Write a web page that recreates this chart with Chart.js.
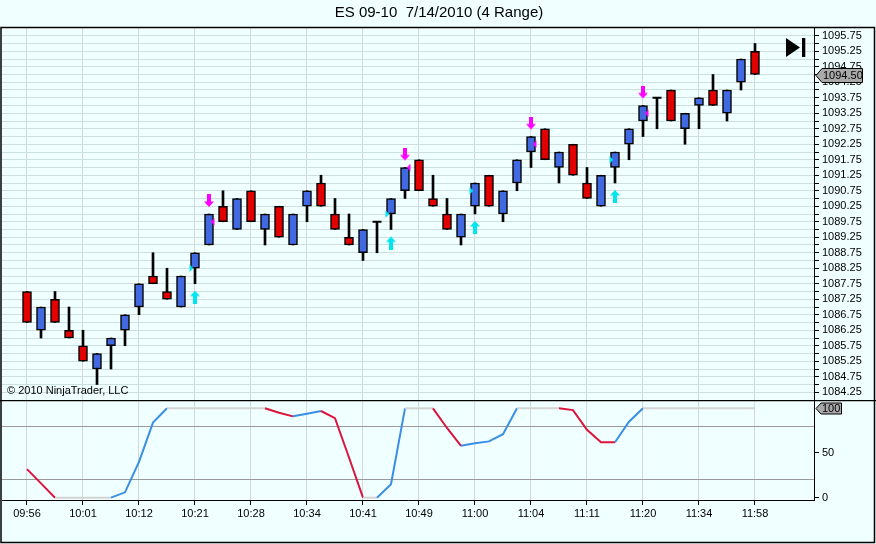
<!DOCTYPE html>
<html><head><meta charset="utf-8">
<script src="https://cdn.jsdelivr.net/npm/chart.js@4.4.0/dist/chart.umd.min.js"></script>
<style>
html,body{margin:0;padding:0;background:#f0ffff;}
#wrap{position:relative;width:876px;height:544px;overflow:hidden;background:#f0ffff;}
#c1{position:absolute;left:0;top:0;}
#c2{position:absolute;left:0;top:400px;}
</style></head><body>
<div id="wrap">
<canvas id="c1" width="876" height="400"></canvas>
<canvas id="c2" width="876" height="144"></canvas>
</div>
<script>
// ---------------- DATA ----------------
const title = 'ES 09-10  7/14/2010 (4 Range)';
const timeLabels = ['09:56','10:01','10:12','10:21','10:28','10:34','10:41','10:49','11:00','11:04','11:11','11:20','11:34','11:58'];
const opens  = [1087.5,1086.25,1087.25,1086.25,1085.75,1085.0,1085.75,1086.25,1087.0,1088.0,1087.5,1087.0,1088.25,1089.0,1090.25,1089.5,1090.75,1089.5,1090.25,1089.0,1090.25,1091.0,1090.0,1089.25,1088.75,1089.75,1090.0,1090.75,1091.75,1090.5,1090.0,1089.25,1090.25,1091.25,1090.0,1091.0,1092.0,1092.75,1091.5,1092.25,1091.0,1090.25,1091.5,1092.25,1093.0,1093.75,1094.0,1092.75,1093.5,1094.0,1093.25,1094.25,1095.25];
const highs  = [1087.5,1087.0,1087.5,1087.0,1086.25,1085.5,1086.0,1086.75,1087.75,1088.75,1088.25,1088.0,1088.75,1090.0,1090.75,1090.5,1090.75,1090.0,1090.25,1090.0,1090.75,1091.25,1090.5,1090.0,1089.5,1089.75,1090.5,1091.5,1091.75,1091.25,1090.5,1090.0,1091.0,1091.25,1090.75,1091.75,1092.5,1092.75,1092.0,1092.25,1091.5,1091.25,1092.0,1092.75,1093.5,1093.75,1094.0,1093.25,1093.75,1094.5,1094.0,1095.0,1095.5];
const lows   = [1086.5,1086.0,1086.5,1086.0,1085.25,1084.5,1085.0,1085.75,1086.75,1087.75,1087.25,1087.0,1087.75,1089.0,1089.75,1089.5,1089.75,1089.0,1089.25,1089.0,1089.75,1090.25,1089.5,1089.0,1088.5,1088.75,1089.5,1090.5,1090.75,1090.25,1089.5,1089.0,1090.0,1090.25,1089.75,1090.75,1091.5,1091.75,1091.0,1091.25,1090.5,1090.25,1091.0,1091.75,1092.5,1092.75,1093.0,1092.25,1092.75,1093.5,1093.0,1094.0,1094.5];
const closes = [1086.5,1087.0,1086.5,1086.0,1085.25,1085.5,1086.0,1086.75,1087.75,1087.75,1087.25,1088.0,1088.75,1090.0,1089.75,1090.5,1089.75,1090.0,1089.25,1090.0,1090.75,1090.25,1089.5,1089.0,1089.5,1089.75,1090.5,1091.5,1090.75,1090.25,1089.5,1090.0,1091.0,1090.25,1090.75,1091.75,1092.5,1091.75,1092.0,1091.25,1090.5,1091.25,1092.0,1092.75,1093.5,1093.75,1093.0,1093.25,1093.75,1093.5,1094.0,1095.0,1094.5];
const sellBars  = [13, 27, 36, 44];
const sellMarks = [1089.75, 1091.5, 1092.25, 1093.25];
const buyBars   = [12, 26, 32, 42];
const buyMarks  = [1088.25, 1090.0, 1090.75, 1091.75];
const stoch = [32,16,0,0,0,0,0,6,40,84,100,100,100,100,100,100,100,100,95,91,94,97,89,45,0,0,15,100,100,100,78,58,61,63,71,100,100,100,100,98,76,62,62,85,100,100,100,100,100,100,100,100,100];
const priceMin = 1084.0, priceMax = 1096.0, priceStep = 0.25;

// ---------------- STYLE ----------------
const FONT = 'Liberation Sans, Arial, sans-serif';
Chart.defaults.font.family = FONT;
Chart.defaults.font.size = 11;
Chart.defaults.color = '#000';
const UP = '#4169e1', DOWN = '#e00000';
const X_MIN = -1.7857, X_MAX = 56.2143;
const AXIS_W = 62;

function zeroPad(s) { s.paddingTop = 0; s.paddingBottom = 0; s.paddingLeft = 0; s.paddingRight = 0; }

function arrowImg(color, down) {
  const gap = 7, len = 13, w = 10;
  const c = document.createElement('canvas');
  c.width = w; c.height = 2 * (gap + len);
  const g = c.getContext('2d');
  g.fillStyle = color;
  g.save();
  if (!down) { g.translate(0, c.height); g.scale(1, -1); }
  g.fillRect(w/2 - 2, 0, 4, 8);
  g.beginPath(); g.moveTo(0, 7.5); g.lineTo(w, 7.5); g.lineTo(w/2, len); g.closePath(); g.fill();
  g.restore();
  return c;
}
function triImg(color, left) {
  const c = document.createElement('canvas');
  c.width = 14; c.height = 8;
  const g = c.getContext('2d');
  g.fillStyle = color;
  g.beginPath();
  if (left) { g.moveTo(8.7, 4); g.lineTo(12.5, 0.3); g.lineTo(12.5, 7.7); }
  else { g.moveTo(5.3, 4); g.lineTo(1.5, 0.3); g.lineTo(1.5, 7.7); }
  g.closePath(); g.fill();
  return c;
}

// build datasets from data
const idx = opens.map((_, i) => i);
const bodyPts = [], bodyCols = [], dojiPts = [];
idx.forEach(i => {
  if (opens[i] === closes[i]) dojiPts.push({x: i, y: opens[i]});
  else { bodyPts.push({x: i, y: [opens[i], closes[i]]}); bodyCols.push(closes[i] > opens[i] ? UP : DOWN); }
});
const wickPts = idx.map(i => ({x: i, y: [lows[i], highs[i]]}));
const priceTicks = [];
for (let v = priceMin; v <= priceMax + 1e-9; v += priceStep) priceTicks.push(+v.toFixed(2));
const timeTicks = timeLabels.map((_, k) => k * 4);

const deco1 = {
  id: 'deco1',
  afterDraw(chart) {
    const ctx = chart.ctx, ys = chart.scales.y;
    ctx.save();
    ctx.font = '11px ' + FONT; ctx.fillStyle = '#000'; ctx.textBaseline = 'middle'; ctx.textAlign = 'left';
    ctx.fillText('\u00a9 2010 NinjaTrader, LLC', 7, 391);
    ctx.fillStyle = '#000';
    ctx.beginPath(); ctx.moveTo(786, 38); ctx.lineTo(786, 57); ctx.lineTo(800, 47.5); ctx.closePath(); ctx.fill();
    ctx.fillRect(802, 38, 3.3, 19);
    const last = closes[closes.length - 1];
    const y = Math.round(ys.getPixelForValue(last)) + 0.5;
    ctx.beginPath(); ctx.moveTo(816, y); ctx.lineTo(822, y - 7); ctx.lineTo(862.5, y - 7); ctx.lineTo(862.5, y + 7); ctx.lineTo(822, y + 7); ctx.closePath();
    ctx.fillStyle = '#a9a9a9'; ctx.fill(); ctx.strokeStyle = '#000'; ctx.lineWidth = 1; ctx.stroke();
    ctx.fillStyle = '#000'; ctx.font = '11px ' + FONT; ctx.textAlign = 'left';
    ctx.fillText(last.toFixed(2), 823, y + 0.5);
    ctx.strokeStyle = '#000'; ctx.lineWidth = 1.5;
    ctx.beginPath(); ctx.moveTo(1, 400); ctx.lineTo(1, 27.5); ctx.lineTo(874.5, 27.5); ctx.lineTo(874.5, 400); ctx.stroke();
    ctx.restore();
  }
};

new Chart(document.getElementById('c1'), {
  type: 'bar',
  data: { datasets: [
    { type: 'scatter', data: sellBars.map(i => ({x: i, y: highs[i]})), pointStyle: arrowImg('#ff00ff', true), pointRadius: 5, order: 0 },
    { type: 'scatter', data: buyBars.map(i => ({x: i, y: lows[i]})), pointStyle: arrowImg('#00e5ee', false), pointRadius: 5, order: 0 },
    { type: 'scatter', data: sellBars.map((i, k) => ({x: i, y: sellMarks[k]})), pointStyle: triImg('#ff00ff', true), pointRadius: 5, order: 1 },
    { type: 'scatter', data: buyBars.map((i, k) => ({x: i, y: buyMarks[k]})), pointStyle: triImg('#00e5ee', false), pointRadius: 5, order: 1 },
    { type: 'scatter', data: dojiPts, pointStyle: 'line', pointRadius: 4.5, borderColor: '#000', borderWidth: 2, order: 2 },
    { type: 'bar', data: bodyPts, backgroundColor: bodyCols, borderColor: '#000', borderWidth: 1.5, borderSkipped: false, barThickness: 9, grouped: false, order: 3 },
    { type: 'bar', data: wickPts, backgroundColor: '#000', borderWidth: 0, barThickness: 2, grouped: false, order: 4 }
  ]},
  options: {
    responsive: false, animation: false, events: [],
    layout: { autoPadding: false, padding: { left: 2, top: 1, right: 0, bottom: 0 } },
    plugins: {
      legend: { display: false }, tooltip: { enabled: false },
      title: { display: true, text: title, color: '#000', font: { size: 15, family: FONT, weight: 'normal' }, padding: { top: 3, bottom: 6 } }
    },
    scales: {
      x: {
        type: 'linear', min: X_MIN, max: X_MAX, offset: false,
        afterBuildTicks: s => { s.ticks = timeTicks.map(v => ({value: v})); },
        afterFit: s => { s.height = 0; zeroPad(s); },
        ticks: { display: false },
        grid: { offset: false, color: '#d0dada', drawTicks: false },
        border: { display: false }
      },
      y: {
        type: 'linear', position: 'right', min: priceMin, max: priceMax,
        afterBuildTicks: s => { s.ticks = priceTicks.map(v => ({value: v})); },
        afterFit: s => { s.width = AXIS_W; zeroPad(s); },
        ticks: {
          autoSkip: false, padding: 3,
          callback: v => (v === priceMin || v === priceMax) ? null : ((Math.round(v * 4) % 2 === 1) ? v.toFixed(2) : '')
        },
        grid: { color: '#cde0e0', tickColor: '#000', tickLength: 5 },
        border: { color: '#000', width: 1 }
      }
    }
  },
  plugins: [deco1]
});

const BLUE = '#3a8ee6', RED = '#dc143c', GRAY = '#d3d3d3';
const deco2 = {
  id: 'deco2',
  afterDraw(chart) {
    const ctx = chart.ctx, ys = chart.scales.y;
    ctx.save();
    const last = stoch[stoch.length - 1];
    const y = Math.round(ys.getPixelForValue(last)) + 0.5;
    ctx.beginPath(); ctx.moveTo(816, y); ctx.lineTo(821, y - 5.5); ctx.lineTo(841.5, y - 5.5); ctx.lineTo(841.5, y + 5.5); ctx.lineTo(821, y + 5.5); ctx.closePath();
    ctx.fillStyle = '#a9a9a9'; ctx.fill(); ctx.strokeStyle = '#000'; ctx.lineWidth = 1; ctx.stroke();
    ctx.fillStyle = '#000'; ctx.font = '11px ' + FONT; ctx.textAlign = 'left'; ctx.textBaseline = 'middle';
    ctx.fillText(String(last), 822, y + 0.5);
    ctx.strokeStyle = '#000'; ctx.lineWidth = 1.5;
    ctx.beginPath(); ctx.moveTo(0, 0.5); ctx.lineTo(876, 0.5); ctx.stroke();
    ctx.beginPath(); ctx.moveTo(1, 0); ctx.lineTo(1, 142.5); ctx.lineTo(874.5, 142.5); ctx.lineTo(874.5, 0); ctx.stroke();
    ctx.restore();
  }
};

new Chart(document.getElementById('c2'), {
  type: 'line',
  data: { datasets: [{
    data: idx.map(i => ({x: i, y: stoch[i]})),
    borderWidth: 2, pointRadius: 0, tension: 0, fill: false,
    segment: { borderColor: c => {
      const a = c.p0.parsed.y, b = c.p1.parsed.y;
      if (a === b && (a === 100 || a === 0)) return GRAY;
      return b > a ? BLUE : RED;
    } }
  }]},
  options: {
    responsive: false, animation: false, events: [],
    layout: { autoPadding: false, padding: { left: 2, top: 0, right: 0, bottom: 0 } },
    plugins: { legend: { display: false }, tooltip: { enabled: false } },
    scales: {
      x: {
        type: 'linear', min: X_MIN, max: X_MAX,
        afterBuildTicks: s => { s.ticks = timeTicks.map(v => ({value: v})); },
        afterFit: s => { s.height = 44; zeroPad(s); },
        ticks: { autoSkip: false, maxRotation: 0, padding: 2, callback: v => timeLabels[Math.round(v / 4)] },
        grid: { color: '#d0dada', tickColor: '#000', tickLength: 5 },
        border: { color: '#000', width: 1 }
      },
      y: {
        type: 'linear', position: 'right', min: -2.6, max: 109.3,
        afterBuildTicks: s => { s.ticks = [0, 20, 50, 80, 100].map(v => ({value: v})); },
        afterFit: s => { s.width = AXIS_W; zeroPad(s); },
        ticks: { autoSkip: false, padding: 3, callback: v => v === 100 ? null : ((v === 20 || v === 80) ? '' : String(v)) },
        grid: {
          color: c => (c.tick && (c.tick.value === 20 || c.tick.value === 80)) ? '#999' : 'rgba(0,0,0,0)',
          tickColor: c => (c.tick && (c.tick.value === 20 || c.tick.value === 80)) ? 'rgba(0,0,0,0)' : '#000',
          tickLength: 5
        },
        border: { color: '#000', width: 1 }
      }
    }
  },
  plugins: [deco2]
});
</script>
</body></html>
